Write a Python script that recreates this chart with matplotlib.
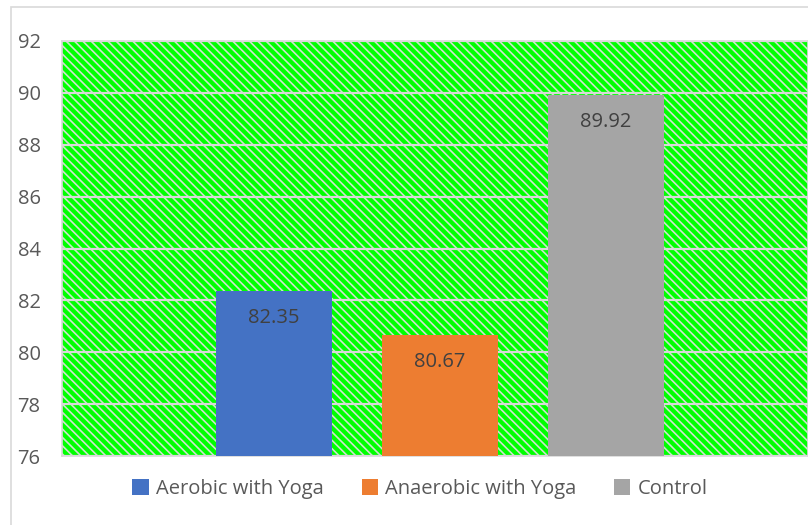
import matplotlib
matplotlib.use("Agg")
import matplotlib.pyplot as plt
from matplotlib.patches import Rectangle

series = ["Aerobic with Yoga", "Anaerobic with Yoga", "Control"]
values = [82.35, 80.67, 89.92]
colors = ["#4472C4", "#ED7D31", "#A5A5A5"]
yticks = [76, 78, 80, 82, 84, 86, 88, 90, 92]

plt.rcParams["font.family"] = ["Open Sans", "DejaVu Sans"]
plt.rcParams["hatch.linewidth"] = 1.2
plt.rcParams["hatch.color"] = "#CFE3CF"

W, H = 808, 525
fig = plt.figure(figsize=(W / 100, H / 100), dpi=100)
fig.patch.set_facecolor("white")

# chart border
fig.add_artist(Rectangle((11 / W, -0.01), 1.0, 1 - 7 / H + 0.01, transform=fig.transFigure,
                         fill=False, edgecolor="#D9D9D9", linewidth=1.2))

left, right = 62 / W, 1.0
bottom, top = 1 - 456 / H, 1 - 41 / H
ax = fig.add_axes([left, bottom, right - left, top - bottom])

# background hatch
ax.add_patch(Rectangle((0, 0), 1, 1, transform=ax.transAxes, facecolor="#00FF00",
                       hatch="\\\\\\\\", edgecolor="#CFE3CF", linewidth=0, zorder=0))
ax.set_facecolor("#00FF00")

x = list(range(len(series)))
bars = ax.bar(x, values, width=0.70, color=colors, zorder=3)
for b, s in zip(bars, series):
    b.set_label(s)

ax.set_ylim(76, 92)
ax.set_yticks(yticks)
ax.set_xlim(-1.275, 3.215)
ax.set_xticks([])
ax.yaxis.grid(True, color="#D9D9D9", linewidth=1.6, zorder=1)
ax.set_axisbelow(True)
for sp in ["top", "left", "bottom", "right"]:
    ax.spines[sp].set_color("#D9D9D9")
    ax.spines[sp].set_linewidth(1.2)
ax.tick_params(axis="y", length=0, labelsize=14.5, labelcolor="#595959", pad=32)
for lbl in ax.get_yticklabels():
    lbl.set_horizontalalignment("left")

for xi, v in zip(x, values):
    ax.annotate(f"{v:.2f}", (xi, v), xytext=(0, -27), textcoords="offset pixels",
                ha="center", va="center", fontsize=14.5, color="#404040", zorder=4)

fig.legend(handles=bars, labels=series, loc="center", bbox_to_anchor=(420 / W, 1 - 489 / H),
           ncol=3, frameon=False, fontsize=14.5, labelcolor="#595959",
           handlelength=0.8, handleheight=0.8, handletextpad=0.35, columnspacing=1.9)

fig.savefig("out.png", dpi=100)
